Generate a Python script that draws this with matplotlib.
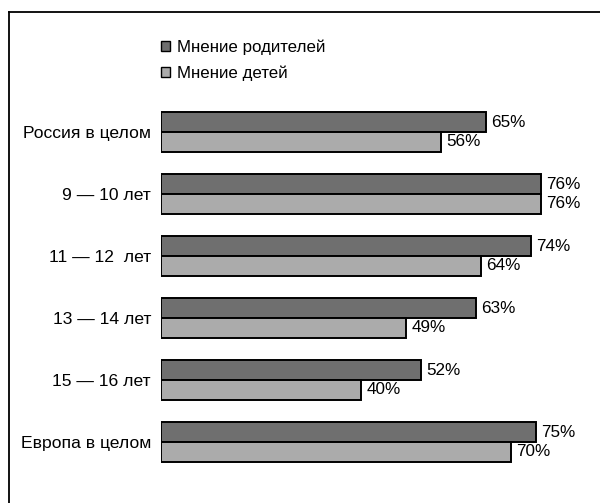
import matplotlib
matplotlib.use("Agg")
import matplotlib.pyplot as plt
from matplotlib.patches import Patch
from matplotlib.lines import Line2D
import numpy as np

plt.rcParams['font.family'] = ['Liberation Sans', 'DejaVu Sans']

categories = ["Россия в целом", "9 — 10 лет", "11 — 12  лет", "13 — 14 лет", "15 — 16 лет", "Европа в целом"]
parents = [65, 76, 74, 63, 52, 75]
children = [56, 76, 64, 49, 40, 70]
series_names = ["Мнение родителей", "Мнение детей"]

W, H = 600, 503
fig = plt.figure(figsize=(W / 100, H / 100), dpi=100)
fig.patch.set_facecolor("white")

# axes placement in pixels
left_px, top_px, bottom_px = 161, 101, 473
ax = fig.add_axes([left_px / W, 1 - bottom_px / H, (W - left_px) / W, (bottom_px - top_px) / H])

y = np.arange(len(categories))
h = 0.32
c_par = "#6f6f6f"
c_chi = "#ababab"
ax.barh(y - h / 2, parents, height=h, color=c_par, edgecolor="black", linewidth=1.4)
ax.barh(y + h / 2, children, height=h, color=c_chi, edgecolor="black", linewidth=1.4)

for yi, v in zip(y, parents):
    ax.text(v + 1.1, yi - h / 2, f"{v}%", va="center", ha="left", fontsize=12.3)
for yi, v in zip(y, children):
    ax.text(v + 1.1, yi + h / 2, f"{v}%", va="center", ha="left", fontsize=12.3)

ax.set_xlim(0, (W - left_px) / 5.0)
ax.set_ylim(len(categories) - 0.5, -0.5)
ax.set_yticks(y)
ax.set_yticklabels(categories, fontsize=12.6)
ax.tick_params(axis="y", length=0, pad=7.2)
ax.set_xticks([])
for s in ax.spines.values():
    s.set_visible(False)
ax.set_facecolor("none")

handles = [Patch(facecolor=c_par, edgecolor="black", linewidth=1.0),
           Patch(facecolor=c_chi, edgecolor="black", linewidth=1.0)]
fig.legend(handles, series_names, loc="upper left", bbox_to_anchor=(154 / W, 1 - 33 / H),
           frameon=False, fontsize=12.2, handlelength=0.55, handleheight=0.55,
           handletextpad=0.4, labelspacing=0.6, borderaxespad=0)

# scanned frame (top and left edges visible)
fig.add_artist(Line2D([9 / W, 1], [1 - 12 / H, 1 - 12 / H], transform=fig.transFigure, color="black", linewidth=1.3))
fig.add_artist(Line2D([9 / W, 9 / W], [0, 1 - 12 / H], transform=fig.transFigure, color="black", linewidth=1.3))

fig.savefig("out.png", dpi=100)
